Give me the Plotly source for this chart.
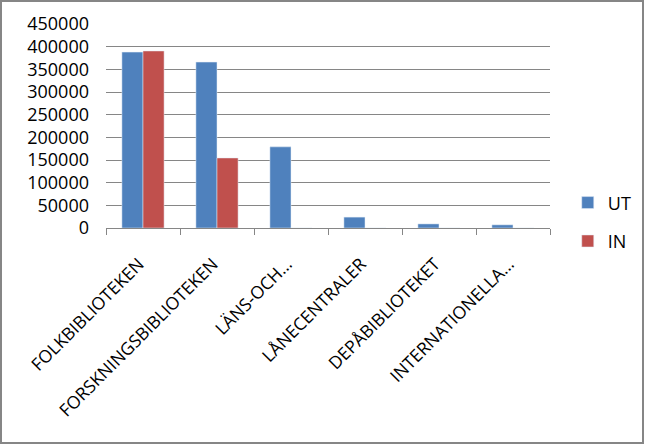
import plotly.graph_objects as go

categories = ["FOLKBIBLIOTEKEN", "FORSKNINGSBIBLIOTEKEN", "LÄNS-OCH…", "LÅNECENTRALER", "DEPÅBIBLIOTEKET", "INTERNATIONELLA…"]
ut_values = [388000, 366000, 179000, 24000, 9000, 7000]
in_values = [390500, 154500, 0, 0, 0, 0]
y_ticks = [0, 50000, 100000, 150000, 200000, 250000, 300000, 350000, 400000, 450000]

W, H = 646, 445
L, R, T, B = 106, 96, 24, 217
pw, ph = W - L - R, H - T - B

fig = go.Figure()
fig.add_trace(go.Bar(name="UT", x=categories, y=ut_values, marker_color="#4F81BD", legendgroup="ut"))
fig.add_trace(go.Bar(name="IN", x=categories, y=in_values, marker_color="#C0504D", legendgroup="in"))

font = "Open Sans, Liberation Sans, sans-serif"
fig.update_layout(
    width=W, height=H,
    margin=dict(l=L, r=R, t=T, b=B, autoexpand=False),
    paper_bgcolor="white", plot_bgcolor="white",
    barmode="group", bargap=0.43, bargroupgap=0,
    font=dict(family=font, size=18, color="black"),
    legend=dict(x=1.04, y=0.03, xanchor="left", yanchor="middle",
                font=dict(size=18), tracegroupgap=12, itemwidth=30),
    showlegend=True,
)
fig.update_xaxes(
    type="category", tickangle=-45, tickson="boundaries",
    ticks="outside", ticklen=6, tickcolor="#868686",
    showline=True, linecolor="#868686", linewidth=1,
    showgrid=False, tickfont=dict(size=17.5), ticklabelshift=-4, ticklabelstandoff=18,
)
fig.update_yaxes(
    range=[0, 450000], tickvals=y_ticks, ticktext=[str(v) for v in y_ticks],
    showgrid=True, gridcolor="#868686", gridwidth=1,
    showline=False, zeroline=False, ticks="", tickfont=dict(size=18), ticklabelstandoff=16,
)
fig.add_shape(type="rect", xref="paper", yref="paper",
              x0=(1 - L) / pw, x1=(W - 3 - L) / pw,
              y0=(T + ph - (H - 2)) / ph, y1=(T + ph - 1) / ph,
              line=dict(color="#868686", width=2), fillcolor="rgba(0,0,0,0)", layer="below")

fig.write_html("out.html", config={"displayModeBar": False},
               post_script="document.body.style.margin='0';document.body.style.padding='0';")
